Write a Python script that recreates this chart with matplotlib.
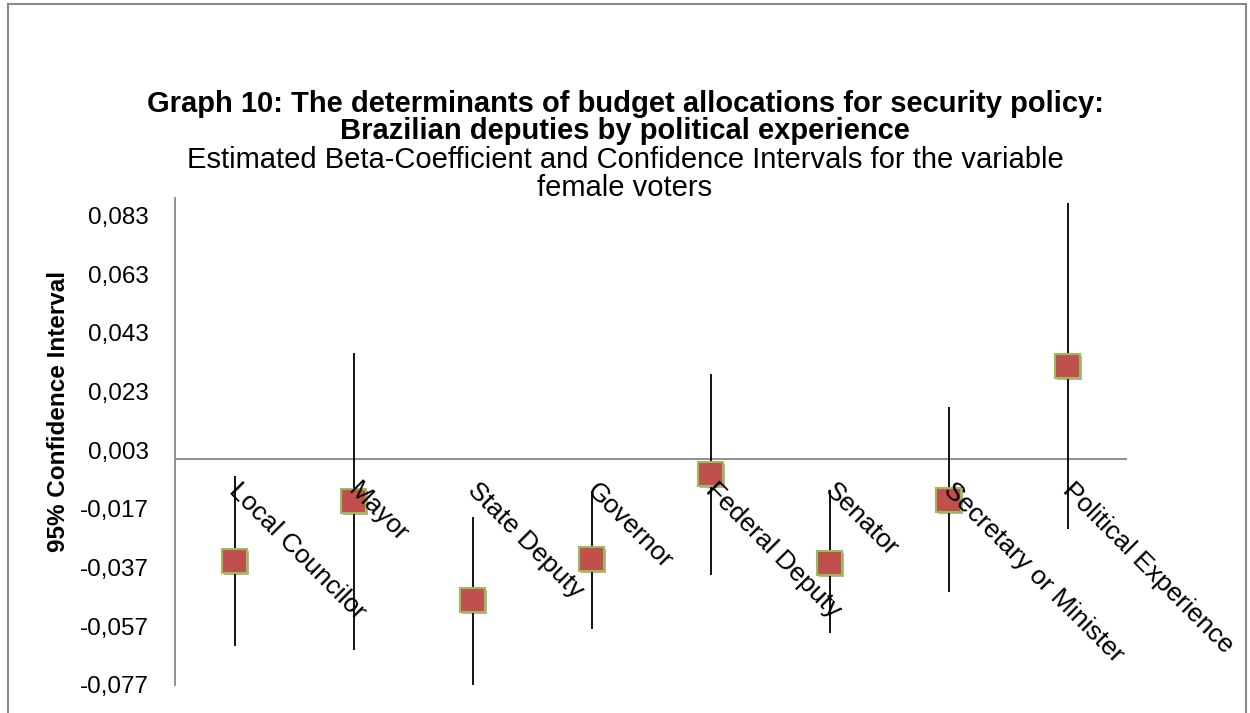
import numpy as np
import matplotlib.pyplot as plt
from matplotlib.patches import Rectangle
import matplotlib.patheffects as pe

# categories and estimates
categories = ['Local Councilor', 'Mayor', 'State Deputy', 'Governor',
              'Federal Deputy', 'Senator', 'Secretary or Minister', 'Political Experience']
beta = [-0.0347, -0.0142, -0.0480, -0.0340, -0.0050, -0.0354, -0.0139, 0.0318]
ci_low = [-0.0637, -0.0651, -0.0770, -0.0580, -0.0395, -0.0593, -0.0453, -0.0238]
ci_high = [-0.0057, 0.0363, -0.0197, -0.0110, 0.0291, -0.0105, 0.0178, 0.0874]
yticks = [-0.077, -0.057, -0.037, -0.017, 0.003, 0.023, 0.043, 0.063, 0.083]

plt.rcParams['font.family'] = ['Liberation Sans', 'DejaVu Sans']

fig = plt.figure(figsize=(12.5, 7.13), dpi=100)
ax = fig.add_axes([0.14, 0.0393, 0.7616, 0.683])

x = np.arange(len(categories))
ax.vlines(x, ci_low, ci_high, color='black', linewidth=1.3, zorder=2)
ax.axhline(0, color='#888888', linewidth=1.3, zorder=1)
ax.plot(x, beta, linestyle='none', marker='s', markersize=17.5,
        markerfacecolor='#C0504D', markeredgecolor='#9BBB59', markeredgewidth=1.5, zorder=3,
        path_effects=[pe.SimplePatchShadow(offset=(1.5, -1.5), alpha=0.35), pe.Normal()])

for i, lab in enumerate(categories):
    ax.text(i - 0.01, -0.0095, lab, rotation=-45, rotation_mode='anchor',
            ha='left', va='center', fontsize=19, zorder=4)

ax.set_xlim(-0.5, 7.5)
ax.set_ylim(-0.077, 0.089)
ax.set_yticks(yticks)
ax.set_yticklabels([('%.3f' % v).replace('.', ',') for v in yticks], fontsize=17.5)
ax.tick_params(axis='y', length=0, pad=19)
ax.set_xticks([])
for s in ['top', 'right', 'bottom']:
    ax.spines[s].set_visible(False)
ax.spines['left'].set_color('#888888')
ax.spines['left'].set_linewidth(1.3)
ax.set_ylabel('95% Confidence Interval', fontsize=17.5, fontweight='bold')
ax.yaxis.set_label_coords(-0.110, 0.5626)

fig.text(0.5, 1 - 104/713, 'Graph 10: The determinants of budget allocations for security policy:',
         ha='center', va='center', fontsize=21, fontweight='bold')
fig.text(0.5, 1 - 131/713, 'Brazilian deputies by political experience',
         ha='center', va='center', fontsize=21, fontweight='bold')
fig.text(0.5, 1 - 160/713, 'Estimated Beta-Coefficient and Confidence Intervals for the variable',
         ha='center', va='center', fontsize=21)
fig.text(0.5, 1 - 188/713, 'female voters',
         ha='center', va='center', fontsize=21)

fig.patches.append(Rectangle((8/1250, -0.1), (1246-8)/1250, 1.1 - 4/713, transform=fig.transFigure,
                             fill=False, edgecolor='#888888', linewidth=1.5))

fig.savefig('out.png', dpi=100)
